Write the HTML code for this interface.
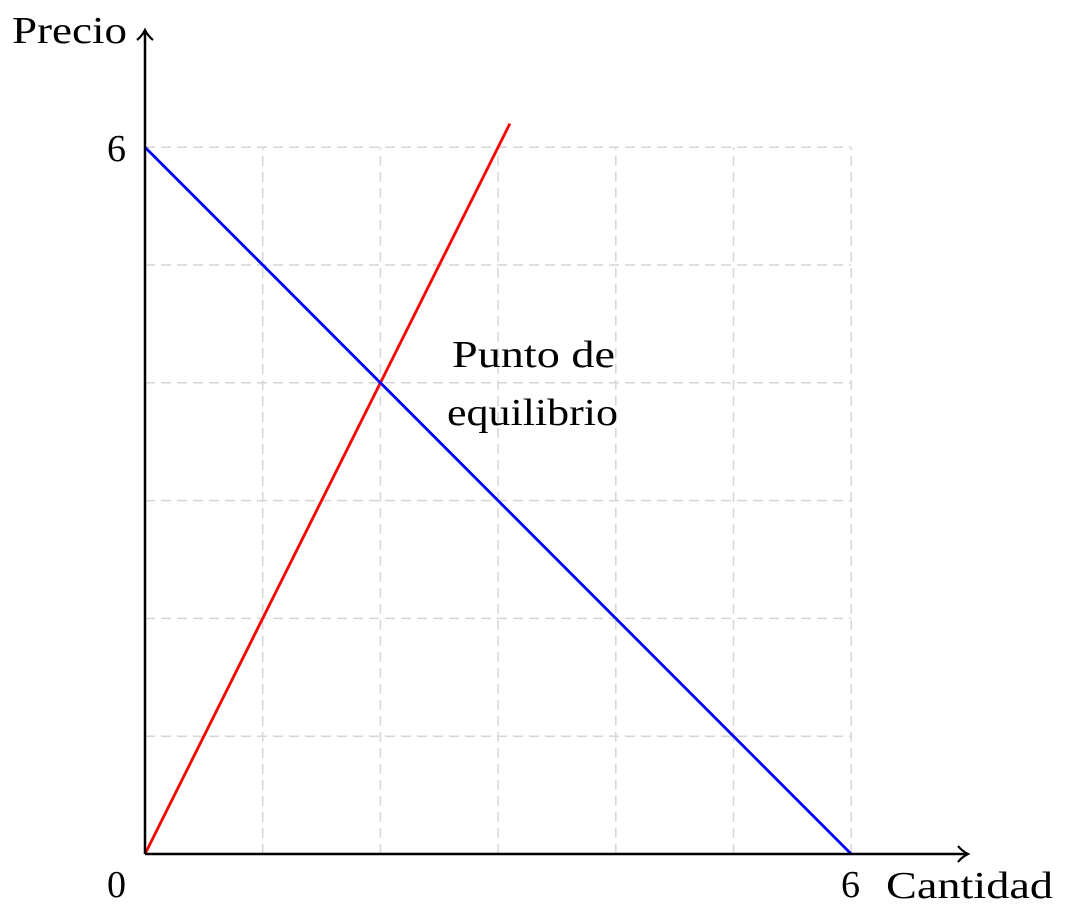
<!DOCTYPE html>
<html><head><meta charset="utf-8">
<style>
html,body{margin:0;padding:0;background:#fff;}
svg text{font-family:"Liberation Serif",serif;font-size:38px;fill:#000;}
</style></head>
<body>
<svg width="1067" height="913" xmlns="http://www.w3.org/2000/svg">
<g id="grid"></g>
<g id="series"></g>
<g>
  <line x1="145" y1="854" x2="966" y2="854" stroke="#000" stroke-width="2.5"/>
  <path d="M958,846 Q962,851 968,854 Q962,857 958,862" fill="none" stroke="#000" stroke-width="2.2"/>
  <line x1="145" y1="854" x2="145" y2="32" stroke="#000" stroke-width="2.5"/>
  <path d="M137,40 Q142,36 145,30 Q148,36 153,40" fill="none" stroke="#000" stroke-width="2.2"/>
</g>
<text x="12" y="43" textLength="115" lengthAdjust="spacingAndGlyphs">Precio</text>
<text x="886" y="898" textLength="167" lengthAdjust="spacingAndGlyphs">Cantidad</text>
<text x="107" y="161">6</text>
<text x="107" y="897">0</text>
<text x="841" y="897">6</text>
<text x="452" y="367" textLength="163" lengthAdjust="spacingAndGlyphs">Punto de</text>
<text x="447" y="425" textLength="171" lengthAdjust="spacingAndGlyphs">equilibrio</text>
<script>
var gridTicks=[1,2,3,4,5,6];
var demandX=[0,6];
var demandY=[6,0];
var supplyX=[0,3.1];
var supplyY=[0,6.2];
var NS="http://www.w3.org/2000/svg";
function sx(v){return 145+v*117.7;}
function sy(v){return 854-v*117.8;}
var g=document.getElementById('grid');
gridTicks.forEach(function(t){
  var l=document.createElementNS(NS,'line');
  l.setAttribute('x1',sx(t));l.setAttribute('x2',sx(t));
  l.setAttribute('y1',sy(0));l.setAttribute('y2',sy(6));
  l.setAttribute('stroke','#d6d6d6');l.setAttribute('stroke-width','1.5');l.setAttribute('stroke-dasharray','10,6');
  
  
  g.appendChild(l);
  var h=document.createElementNS(NS,'line');
  h.setAttribute('y1',sy(t));h.setAttribute('y2',sy(t));
  h.setAttribute('x1',sx(0));h.setAttribute('x2',sx(6));
  h.setAttribute('stroke','#d6d6d6');h.setAttribute('stroke-width','1.5');h.setAttribute('stroke-dasharray','10,6');
  
  
  g.appendChild(h);
});
var s=document.getElementById('series');
function line(xs,ys,color,name){
  var p=document.createElementNS(NS,'polyline');
  p.setAttribute('points',xs.map(function(x,i){return sx(x)+','+sy(ys[i]);}).join(' '));
  p.setAttribute('fill','none');p.setAttribute('stroke',color);p.setAttribute('stroke-width','2.8');
  
  
  s.appendChild(p);
}
line(supplyX,supplyY,'#ff0000','supply-line');
line(demandX,demandY,'#0000ff','demand-line');
</script>
</svg>
</body></html>
